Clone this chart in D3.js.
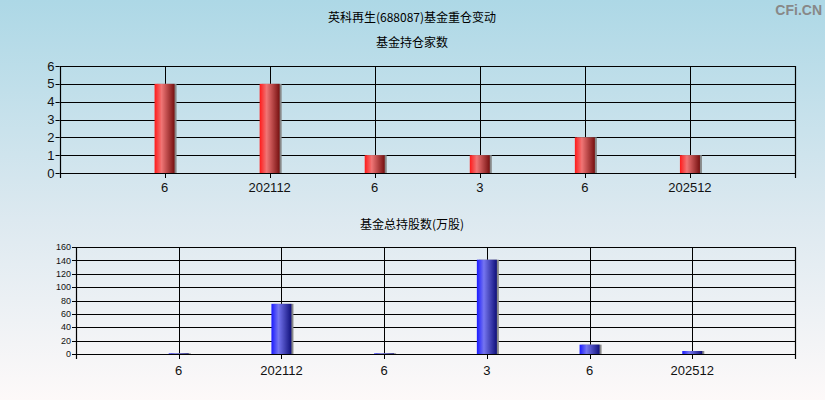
<!DOCTYPE html>
<html><head><meta charset="utf-8">
<script src="https://cdn.jsdelivr.net/npm/d3@7"></script>
<style>html,body{margin:0;padding:0;}svg{display:block;}</style>
</head><body>
<script>
const categories = ["6", "202112", "6", "3", "6", "202512"];
const fundCounts = [5, 5, 1, 1, 2, 1];
const totalShares = [1, 75, 1, 141, 14, 4.5];
const countTicks = [0, 1, 2, 3, 4, 5, 6];
const shareTicks = [0, 20, 40, 60, 80, 100, 120, 140, 160];

const W = 825, H = 400;
const svg = d3.select("body").append("svg").attr("width", W).attr("height", H);
const defs = svg.append("defs");
const bg = defs.append("linearGradient").attr("id", "bg").attr("x1", 0).attr("y1", 0).attr("x2", 0).attr("y2", 1);
bg.append("stop").attr("offset", "0%").attr("stop-color", "#add8e6");
bg.append("stop").attr("offset", "55%").attr("stop-color", "#dde9f0");
bg.append("stop").attr("offset", "100%").attr("stop-color", "#fdf9f9");
svg.append("rect").attr("width", W).attr("height", H).attr("fill", "url(#bg)");

function barGrad(id, c1, c2, c3) {
  const g = defs.append("linearGradient").attr("id", id).attr("x1", 0).attr("y1", 0).attr("x2", 1).attr("y2", 0);
  g.append("stop").attr("offset", "0%").attr("stop-color", c1);
  g.append("stop").attr("offset", "35%").attr("stop-color", c2);
  g.append("stop").attr("offset", "100%").attr("stop-color", c3);
}
barGrad("red", "#ff1a1a", "#f07575", "#761010");
barGrad("blue", "#1a1aff", "#7575f0", "#10107a");

const cjk = "'Noto Sans CJK SC', sans-serif";
const lat = "'Liberation Sans', Arial, sans-serif";

svg.append("text").attr("x", 412).attr("y", 22).attr("text-anchor", "middle")
  .style("font-family", cjk).style("font-size", "12px").text("英科再生(688087)基金重仓变动");
svg.append("text").attr("x", 822).attr("y", 15).attr("text-anchor", "end")
  .style("font-family", lat).style("font-size", "14px").style("font-weight", "bold").attr("fill", "#888").text("CFi.CN");

function panel(opt) {
  const {left, right, top, bottom, values, ticks, max, grad, title, titleY, yFont, labelY} = opt;
  svg.append("text").attr("x", 412).attr("y", titleY).attr("text-anchor", "middle")
    .style("font-family", cjk).style("font-size", "12px").text(title);
  const x = d3.scaleLinear().domain([0, categories.length + 1]).range([left, right]);
  const y = d3.scaleLinear().domain([0, max]).range([bottom, top]);
  const g = svg.append("g");
  // horizontal grid
  g.selectAll("line.h").data(ticks).join("line")
    .attr("x1", left).attr("x2", right).attr("y1", d => Math.round(y(d)) + 0.5).attr("y2", d => Math.round(y(d)) + 0.5)
    .attr("stroke", "#000").attr("stroke-width", 1.2);
  // vertical grid
  const xs = categories.map((c, i) => i + 1);
  g.selectAll("line.v").data(xs).join("line")
    .attr("x1", d => Math.round(x(d)) + 0.5).attr("x2", d => Math.round(x(d)) + 0.5)
    .attr("y1", top).attr("y2", bottom + 5).attr("stroke", "#000").attr("stroke-width", 1);
  // frame ends
  [0, categories.length + 1].forEach(d => {
    g.append("line").attr("x1", Math.round(x(d)) + 0.5).attr("x2", Math.round(x(d)) + 0.5)
      .attr("y1", top).attr("y2", bottom + 5).attr("stroke", "#000").attr("stroke-width", 1.2);
  });
  // y tick marks & labels
  g.selectAll("line.yt").data(ticks).join("line")
    .attr("x1", left - 4).attr("x2", left).attr("y1", d => Math.round(y(d)) + 0.5).attr("y2", d => Math.round(y(d)) + 0.5)
    .attr("stroke", "#000");
  g.selectAll("text.yl").data(ticks).join("text")
    .attr("x", left - 5).attr("y", d => y(d)).attr("dy", "0.35em").attr("text-anchor", "end")
    .style("font-family", lat).style("font-size", yFont + "px").attr("fill", "#111").text(d => d);
  // bars
  const bw = 20;
  values.forEach((v, i) => {
    const cx = x(i + 1);
    const yt = y(v), h = bottom - yt;
    g.append("rect").attr("x", cx - bw / 2 + 2).attr("y", yt).attr("width", bw).attr("height", h).attr("fill", "#888");
    g.append("rect").attr("x", cx - bw / 2).attr("y", yt).attr("width", bw).attr("height", h).attr("fill", `url(#${grad})`);
  });
  // x labels
  g.selectAll("text.xl").data(categories).join("text")
    .attr("x", (d, i) => x(i + 1)).attr("y", labelY).attr("text-anchor", "middle")
    .style("font-family", lat).style("font-size", "13px").attr("fill", "#111").text(d => d);
}

panel({left: 59.5, right: 795, top: 66, bottom: 173, values: fundCounts, ticks: countTicks, max: 6,
  grad: "red", title: "基金持仓家数", titleY: 47, yFont: 13, labelY: 192});
panel({left: 76, right: 795, top: 247, bottom: 354, values: totalShares, ticks: shareTicks, max: 160,
  grad: "blue", title: "基金总持股数(万股)", titleY: 229, yFont: 9, labelY: 375});
</script>
</body></html>
